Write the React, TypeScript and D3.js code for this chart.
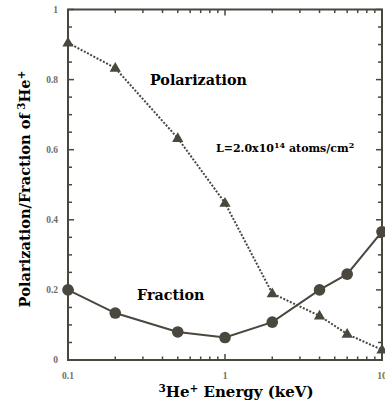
import React from "react";
import * as d3 from "d3";

const energies = [0.1, 0.2, 0.5, 1, 2, 4, 6, 10];
const polarization = [0.905, 0.833, 0.633, 0.448, 0.19, 0.126, 0.074, 0.029];
const fraction = [0.2, 0.134, 0.08, 0.064, 0.108, 0.2, 0.245, 0.366];
const xTickLabels = [
  { v: 0.1, t: "0.1" },
  { v: 1, t: "1" },
  { v: 10, t: "10" },
];
const yTickLabels = [0, 0.2, 0.4, 0.6, 0.8, 1];

const W = 385;
const H = 416;
const L = 68;
const R = 382;
const T = 9.5;
const B = 360;
const C = "#4a473f";
const TICKFONT = { fontFamily: "Liberation Serif, serif" };
const TITLEFONT = { fontFamily: "DejaVu Serif, Liberation Serif, serif" };

export default function App() {
  const x = d3.scaleLog().domain([0.1, 10]).range([L, R]);
  const y = d3.scaleLinear().domain([0, 1]).range([B, T]);

  const xMinor: number[] = [];
  for (const dec of [0.1, 1]) {
    for (let k = 1; k <= 9; k++) xMinor.push(dec * k);
  }
  xMinor.push(10);
  const yMinor = d3.range(0, 1.0001, 0.05);

  const line = d3
    .line<[number, number]>()
    .x((d) => x(d[0]))
    .y((d) => y(d[1]));
  const polPts = energies.map((e, i) => [e, polarization[i]] as [number, number]);
  const fraPts = energies.map((e, i) => [e, fraction[i]] as [number, number]);
  const tri = d3.symbol().type(d3.symbolTriangle).size(55)();

  return (
    <svg
      width={W}
      height={H}
      style={{ position: "absolute", left: 0, top: 0, background: "#fff" }}
    >
      {xMinor.map((v, i) => {
        const major = Math.abs(Math.log10(v) - Math.round(Math.log10(v))) < 1e-6;
        const len = major ? 6 : 3.5;
        return (
          <g key={"xt" + i} stroke={C} strokeWidth={1.5}>
            <line x1={x(v)} x2={x(v)} y1={B} y2={B - len} />
            <line x1={x(v)} x2={x(v)} y1={T} y2={T + len} />
          </g>
        );
      })}
      {yMinor.map((v, i) => {
        const major = Math.abs(v / 0.2 - Math.round(v / 0.2)) < 1e-6;
        const len = major ? 6 : 4;
        return (
          <g key={"yt" + i} stroke={C} strokeWidth={1.5}>
            <line x1={L} x2={L + len} y1={y(v)} y2={y(v)} />
            <line x1={R} x2={R - len} y1={y(v)} y2={y(v)} />
          </g>
        );
      })}
      <rect x={L} y={T} width={R - L} height={B - T} fill="none" stroke={C} strokeWidth={2} />

      {xTickLabels.map((d) => (
        <text
          key={"xl" + d.t}
          x={x(d.v)}
          y={379}
          textAnchor="middle"
          fontSize={9.5}
          fontWeight="bold"
          fill="#6f6d66"
          style={TICKFONT}
        >
          {d.t}
        </text>
      ))}
      {yTickLabels.map((v) => (
        <text
          key={"yl" + v}
          x={58}
          y={y(v) + 3}
          textAnchor="end"
          fontSize={9.5}
          fontWeight="bold"
          fill="#6f6d66"
          style={TICKFONT}
        >
          {String(v)}
        </text>
      ))}

      <path d={line(polPts) || ""} fill="none" stroke={C} strokeWidth={2} strokeDasharray="2,1.6" />
      <path d={line(fraPts) || ""} fill="none" stroke={C} strokeWidth={2} />

      {polPts.map((p, i) => (
        <path key={"tri" + i} d={tri || ""} transform={`translate(${x(p[0])},${y(p[1]) + 0.5})`} fill={C} />
      ))}
      {fraPts.map((p, i) => (
        <circle key={"c" + i} cx={x(p[0])} cy={y(p[1])} r={5.8} fill={C} />
      ))}

      <text x={150} y={85} fontSize={14.3} fontWeight="bold" fill="#000" style={TITLEFONT}>
        Polarization
      </text>
      <text x={137} y={300} fontSize={14.3} fontWeight="bold" fill="#000" style={TITLEFONT}>
        Fraction
      </text>
      <text x={216} y={152} fontSize={11} fontWeight="bold" fill="#000" style={TITLEFONT}>
        L=2.0x10
        <tspan fontSize={8} dy={-4}>14</tspan>
        <tspan dy={4}> atoms/cm</tspan>
        <tspan fontSize={8} dy={-4}>2</tspan>
      </text>

      <text x={236} y={397} textAnchor="middle" fontSize={15} fontWeight="bold" fill="#000" style={TITLEFONT}>
        <tspan fontSize={10.5} dy={-5}>3</tspan>
        <tspan dy={5}>He</tspan>
        <tspan fontSize={10.5} dy={-5}>+</tspan>
        <tspan dy={5}> Energy (keV)</tspan>
      </text>
      <text
        transform={`translate(30,${189}) rotate(-90)`}
        textAnchor="middle"
        fontSize={14.6}
        fontWeight="bold"
        fill="#000"
        style={TITLEFONT}
      >
        Polarization/Fraction of
        <tspan fontSize={10.4} dy={-5}> 3</tspan>
        <tspan dy={5}>He</tspan>
        <tspan fontSize={10.4} dy={-5}>+</tspan>
      </text>
    </svg>
  );
}
